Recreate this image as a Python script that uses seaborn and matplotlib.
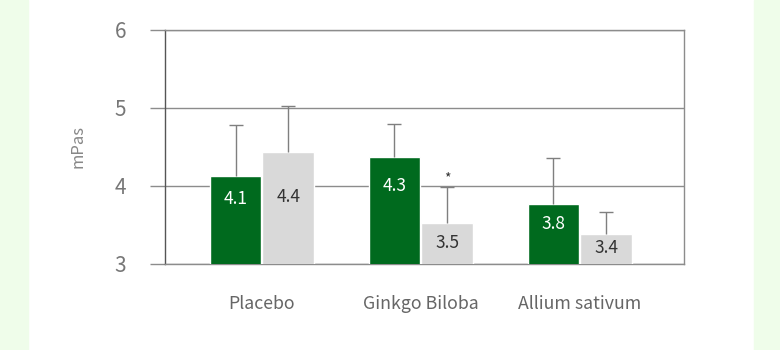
import matplotlib
matplotlib.use("Agg")
import matplotlib.pyplot as plt
import seaborn as sns
import pandas as pd
import numpy as np

categories = ["Placebo", "Ginkgo Biloba", "Allium sativum"]
series = ["Before", "After"]
before_vals = [4.13, 4.37, 3.77]
after_vals = [4.44, 3.53, 3.38]
before_err = [0.65, 0.42, 0.59]
after_err = [0.59, 0.46, 0.29]
before_labels = ["4.1", "4.3", "3.8"]
after_labels = ["4.4", "3.5", "3.4"]
before_label_y = [3.83, 4.0, 3.51]
after_label_y = [3.86, 3.27, 3.2]
y_ticks = [3, 4, 5, 6]

sns.set_theme(style="white")
plt.rcParams['font.family'] = ['Noto Sans CJK KR', 'DejaVu Sans']

df = pd.DataFrame({
    "cat": categories * 2,
    "series": [series[0]] * 3 + [series[1]] * 3,
    "val": before_vals + after_vals,
})

fig = plt.figure(figsize=(7.8, 3.5), dpi=100)
fig.patch.set_facecolor("white")
fig.add_artist(plt.Rectangle((0, 0), 28 / 780, 1, transform=fig.transFigure, color="#effdea", zorder=0))
fig.add_artist(plt.Rectangle((754 / 780, 0), 26 / 780, 1, transform=fig.transFigure, color="#effdea", zorder=0))

ax = fig.add_axes([165 / 780, 1 - 264 / 350, (684 - 165) / 780, (264 - 30) / 350])
ax.set_facecolor("none")

green = "#006a1e"
gray = "#d9d9d9"
sns.barplot(data=df, x="cat", y="val", hue="series", palette=[green, gray], saturation=1,
            width=0.665, gap=0.02, ax=ax, legend=False, zorder=3, errorbar=None)

ax.set_ylim(3, 6)
ax.set_xlim(-0.61, 2.655)

bars = [p for p in ax.patches]
b_bars = bars[:3]
a_bars = bars[3:]
for bl, vals, errs in [(b_bars, before_vals, before_err), (a_bars, after_vals, after_err)]:
    xs = [p.get_x() + p.get_width() / 2 for p in bl]
    cont = ax.errorbar(xs, vals, yerr=[np.zeros(3), errs], fmt="none", ecolor="#7f7f7f",
                       elinewidth=1, capsize=5, capthick=1, zorder=4)
    caps = cont.lines[1]
    if len(caps) > 1:
        caps[0].set_visible(False)

for p, lab, ly in zip(b_bars, before_labels, before_label_y):
    ax.text(p.get_x() + p.get_width() / 2, ly, lab, ha="center", va="center",
            color="white", fontsize=12.5, zorder=5)
for p, lab, ly in zip(a_bars, after_labels, after_label_y):
    ax.text(p.get_x() + p.get_width() / 2, ly, lab, ha="center", va="center",
            color="#333333", fontsize=12.5, zorder=5)

p = a_bars[1]
ax.text(p.get_x() + p.get_width() / 2, after_vals[1] + after_err[1] + 0.02, "*",
        ha="center", va="bottom", color="#333333", fontsize=10, zorder=5)

ax.set_yticks(y_ticks)
ax.set_yticklabels([str(t) for t in y_ticks])
ax.yaxis.grid(True, color="#8c8c8c", linewidth=1)
ax.set_axisbelow(True)
ax.tick_params(axis="y", which="both", left=True, length=11, width=1, color="#8c8c8c",
               labelsize=15, labelcolor="#777777", pad=17)
ax.tick_params(axis="x", bottom=False, labelsize=12.8, labelcolor="#666666", pad=16)

for s in ["top", "bottom", "right"]:
    ax.spines[s].set_color("#8c8c8c")
    ax.spines[s].set_linewidth(1)
ax.spines["left"].set_color("#555555")
ax.spines["left"].set_linewidth(1)

ax.set_xlabel("")
ax.set_ylabel("mPas", color="#888888", fontsize=12, labelpad=20)

fig.savefig("out.png", dpi=100)
